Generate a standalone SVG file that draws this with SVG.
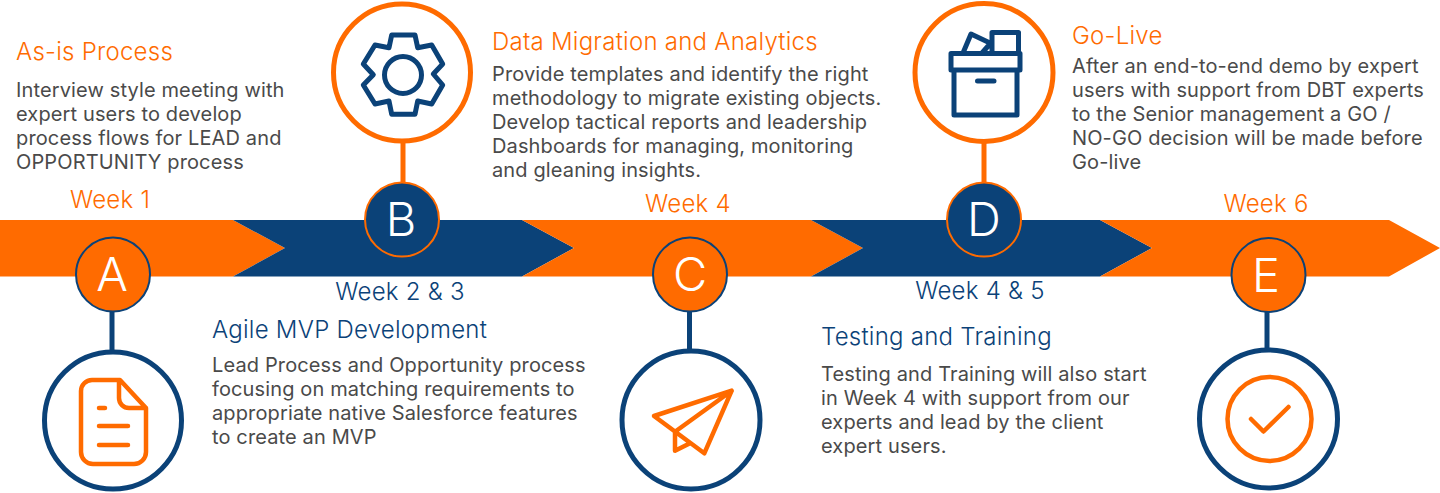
<svg xmlns="http://www.w3.org/2000/svg" width="1440" height="493" viewBox="0 0 1440 493">
<style>
text{font-family:Inter,"Liberation Sans",sans-serif}
.o{fill:#ff6b00}.n{fill:#0b4278}
.w{font-size:24px;font-weight:350;letter-spacing:.25px}.t{font-size:24px;font-weight:350;letter-spacing:.25px}
.b{font-size:20px;letter-spacing:.13px;fill:#4a4a4a}
.l{font-size:47px;fill:#fff;text-anchor:middle;font-weight:300}
.ring{fill:#fff;stroke-width:5}
.so{stroke:#ff6b00}.sn{stroke:#0b4278}
.ic{fill:none;stroke-width:4.500;stroke-linejoin:round;stroke-linecap:round}
.hv{stroke-width:5}
.sm{stroke-width:2}
.m{text-anchor:middle}
</style>
<g id="band">
<polygon class="o" points="0,220 233,220 285,248 233,276.500 0,276.500"/>
<polygon class="n" points="233,220 522,220 574,248 522,276.500 233,276.500 285,248"/>
<polygon class="o" points="522,220 811,220 863,248 811,276.500 522,276.500 574,248"/>
<polygon class="n" points="811,220 1100,220 1152,248 1100,276.500 811,276.500 863,248"/>
<polygon class="o" points="1100,220 1389,220 1440,248 1389,276.500 1100,276.500 1152,248"/>
</g>
<g id="connectors" fill="none" stroke-width="5">
<path class="sn" d="M112 310V350"/>
<path class="so" d="M403 143V184"/>
<path class="sn" d="M689.500 310V350"/>
<path class="so" d="M984 143V184"/>
<path class="sn" d="M1267 310V350"/>
</g>
<g id="node-a">
<circle class="ring sn" cx="113" cy="420.500" r="68.500"/>
<path class="ic so" d="M92 380H120L146 408V452A12 12 0 0 1 134 464H93A12 12 0 0 1 81 452V391A11 11 0 0 1 92 380ZM119 381V398A10 10 0 0 0 129 408H146M99 408H105M99 426H128M99 445H128"/>
<circle class="o sn sm" cx="113" cy="274.500" r="37"/>
<text class="l" x="112" y="291">A</text>
<text class="w o m" x="110" y="208">Week 1</text>
<text class="t o" x="16" y="60">As-is Process</text>
<text class="b"><tspan x="16" y="97">Interview style meeting with</tspan><tspan x="16" y="121">expert users to develop</tspan><tspan x="16" y="145">process flows for LEAD and</tspan><tspan x="16" y="169">OPPORTUNITY process</tspan></text>
</g>
<g id="node-b">
<circle class="ring so" cx="402" cy="72.500" r="68.500"/>
<circle class="ic hv sn" cx="403" cy="75" r="18.500"/>
<polygon class="ic hv sn" points="391.700,35 415,35 417.700,47.700 431.700,45 442.700,64 433.300,74 442.700,85 431.700,104 417.700,101 415,114.300 391.700,114.300 389,101 375,104 363.300,85 373.300,74.700 363.300,64 375,45 389,47.700"/>
<circle class="n so sm" cx="402" cy="219.500" r="37"/>
<text class="l" x="401" y="236">B</text>
<text class="w n m" x="400" y="300">Week 2 &amp; 3</text>
<text class="t o" x="492" y="50">Data Migration and Analytics</text>
<text class="b"><tspan x="492" y="81">Provide templates and identify the right</tspan><tspan x="492" y="105">methodology to migrate existing objects.</tspan><tspan x="492" y="129">Develop tactical reports and leadership</tspan><tspan x="492" y="153">Dashboards for managing, monitoring</tspan><tspan x="492" y="177">and gleaning insights.</tspan></text>
</g>
<g id="node-agile">
<text class="t n" x="212" y="338">Agile MVP Development</text>
<text class="b"><tspan x="212" y="372">Lead Process and Opportunity process</tspan><tspan x="212" y="396">focusing on matching requirements to</tspan><tspan x="212" y="420">appropriate native Salesforce features</tspan><tspan x="212" y="444">to create an MVP</tspan></text>
</g>
<g id="node-c">
<circle class="ring sn" cx="691" cy="420" r="69"/>
<path class="ic so" stroke-linejoin="miter" stroke-linecap="butt" d="M731.700 390.700L654 416L704.300 453.300ZM731.700 390.700L675 431.700V450.700L690 443.300"/>
<circle class="o sn sm" cx="690" cy="274.500" r="37"/>
<text class="l" x="690" y="291">C</text>
<text class="w o m" x="688" y="212">Week 4</text>
</g>
<g id="node-d">
<circle class="ring so" cx="984" cy="72.500" r="69"/>
<path class="ic hv sn" stroke-linejoin="miter" stroke-linecap="butt" d="M951 53.500H1020V70H951ZM954 70H1017V115H954ZM977.500 81H994M992 53V32.500H1018.500V53M963 53L971 34L990 43M982 53L989 45"/>
<circle class="n so sm" cx="984" cy="219.500" r="37"/>
<text class="l" x="984" y="236">D</text>
<text class="w n m" x="980" y="299">Week 4 &amp; 5</text>
<text class="t o" x="1072" y="44">Go-Live</text>
<text class="b"><tspan x="1072" y="73">After an end-to-end demo by expert</tspan><tspan x="1072" y="97">users with support from DBT experts</tspan><tspan x="1072" y="121">to the Senior management a GO /</tspan><tspan x="1072" y="145">NO-GO decision will be made before</tspan><tspan x="1072" y="169">Go-live</tspan></text>
</g>
<g id="node-testing">
<text class="t n" x="821" y="345">Testing and Training</text>
<text class="b"><tspan x="821" y="381">Testing and Training will also start</tspan><tspan x="821" y="405">in Week 4 with support from our</tspan><tspan x="821" y="429">experts and lead by the client</tspan><tspan x="821" y="453">expert users.</tspan></text>
</g>
<g id="node-e">
<circle class="ring sn" cx="1268.500" cy="419" r="69"/>
<circle class="ic so" cx="1269.500" cy="419" r="42"/>
<path class="ic so" d="M1251 419L1263.500 431.500L1288.500 407"/>
<circle class="o sn sm" cx="1268.500" cy="275" r="37"/>
<text class="l" x="1266" y="292">E</text>
<text class="w o m" x="1266" y="212">Week 6</text>
</g>
</svg>
